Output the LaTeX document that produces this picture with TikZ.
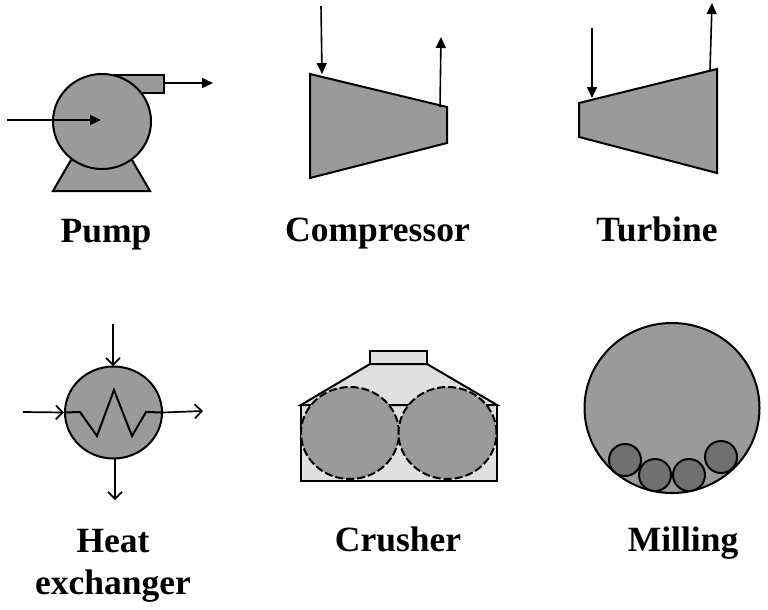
\documentclass[tikz,border=0pt]{standalone}
\usepackage{fontspec}
\setmainfont{Liberation Serif}
\usetikzlibrary{arrows.meta,shapes.geometric}
\definecolor{eqgray}{HTML}{9A9A9A}
\definecolor{lightgray2}{HTML}{E0E0E0}
\definecolor{ballgray}{HTML}{707070}
\tikzset{
  eq/.style={draw=black,fill=eqgray,line width=2pt,line join=miter},
  light/.style={draw=black,fill=lightgray2,line width=2pt},
  flow/.style={draw=black,line width=1.6pt,-{Stealth[length=11pt,width=10pt,inset=0pt]}},
  openflow/.style={draw=black,line width=1.7pt,-{Straight Barb[length=7pt,width=14pt]}},
  roll/.style={ellipse,draw=black,fill=eqgray,line width=2pt,dash pattern=on 8pt off 3pt,minimum width=98pt,minimum height=92pt,inner sep=0pt},
  ball/.style={circle,draw=black,fill=ballgray,line width=2pt,minimum size=32pt,inner sep=0pt},
  captext/.style={font=\fontsize{35.5}{40}\selectfont\bfseries,align=center,inner sep=0pt},
  capbase/.style={captext,anchor=base}
}
\begin{document}
\begin{tikzpicture}[x=1pt,y=-1pt]
\useasboundingbox (0,0) rectangle (768,610);
% Pump
\path[eq] (71,160) -- (53,191) -- (150,191) -- (132,160) -- cycle;
\path[eq] (100,75) -- (163.5,75) -- (163.5,92.5) -- (100,92.5) -- cycle;
\node[ellipse,eq,minimum width=98pt,minimum height=95pt,inner sep=0pt] (pump) at (102,121.5) {};
\coordinate (pin) at (7,120);
\coordinate (pinend) at (101,120);
\coordinate (pout) at (163.5,83);
\coordinate (poutend) at (213,83);
\draw[flow] (pin) -- (pinend);
\draw[flow] (pout) -- (poutend);
\node[capbase] (t1) at (106,242) {Pump};
% Compressor
\path[eq] (310,74) -- (447,107) -- (447,143) -- (310,178) -- cycle;
\coordinate (c1) at (321,6); \coordinate (c2) at (322,74);
\coordinate (c3) at (440,107); \coordinate (c4) at (441,37);
\draw[flow] (c1) -- (c2);
\draw[flow] (c3) -- (c4);
\node[capbase] (t2) at (377.5,241) {Compressor};
% Turbine
\path[eq] (579,103) -- (717,69) -- (717,173) -- (579,137) -- cycle;
\coordinate (d1) at (592,28); \coordinate (d2) at (592,98);
\coordinate (d3) at (710,70); \coordinate (d4) at (712,3);
\draw[flow] (d1) -- (d2);
\draw[flow] (d3) -- (d4);
\node[capbase] (t3) at (657,241) {Turbine};
% Heat exchanger
\node[ellipse,eq,minimum width=97pt,minimum height=92pt,inner sep=0pt] (hx) at (113.5,412.5) {};
\draw[black,line width=2pt] (hx.west) -- (80,412) -- (97,436) -- (114,390) -- (132,436) -- (146,412) -- (hx.east);
\coordinate (h1) at (23,412);
\coordinate (h2) at (113,324);
\coordinate (h3) at (115,500);
\coordinate (h4) at (203,411);
\draw[openflow] (h1) -- (hx.west);
\draw[openflow] (h2) -- (113,366);
\draw[openflow] (115,458) -- (h3);
\draw[openflow] (hx.east) -- (h4);
\node[captext] (t4) at (113,566) {Heat\\[2pt]exchanger};
% Crusher
\path[light] (301,405) rectangle (497,481);
\path[light] (370,351) rectangle (427,364);
\path[light] (370,364) -- (427,364) -- (497,405) -- (301,405) -- cycle;
\node[roll] (r1) at (350,433) {};
\node[roll] (r2) at (447.5,433) {};
\node[capbase] (t5) at (398,551) {Crusher};
% Milling
\node[ellipse,eq,minimum width=175pt,minimum height=170pt,inner sep=0pt] (mill) at (672,408) {};
\node[ball] (b1) at (625,460) {};
\node[ball] (b2) at (655,475) {};
\node[ball] (b3) at (689,475) {};
\node[ball] (b4) at (721,457) {};
\node[capbase] (t6) at (683,551) {Milling};
\end{tikzpicture}
\end{document}
